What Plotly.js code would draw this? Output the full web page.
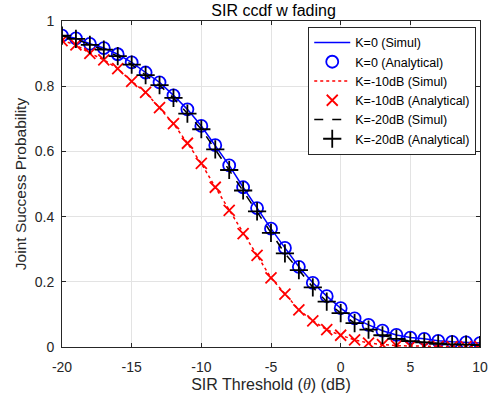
<!DOCTYPE html>
<html>
<head>
<meta charset="utf-8">
<script src="https://cdn.plot.ly/plotly-3.0.1.min.js"></script>
<style>html,body{margin:0;padding:0;background:#fff;}#chart{width:492px;height:403px;}</style>
</head>
<body>
<div id="chart"></div>
<script>
var theta = [-20,-19,-18,-17,-16,-15,-14,-13,-12,-11,-10,-9,-8,-7,-6,-5,-4,-3,-2,-1,0,1,2,3,4,5,6,7,8,9,10];
var k0 = [0.955,0.947,0.930,0.917,0.898,0.873,0.842,0.812,0.772,0.729,0.678,0.619,0.557,0.490,0.426,0.363,0.304,0.246,0.197,0.156,0.119,0.088,0.068,0.050,0.037,0.029,0.025,0.019,0.016,0.014,0.012];
var k10 = [0.940,0.927,0.901,0.881,0.854,0.815,0.781,0.734,0.685,0.625,0.563,0.490,0.419,0.348,0.281,0.212,0.162,0.114,0.080,0.053,0.036,0.022,0.012,0.007,0.004,0.003,0.002,0.002,0.001,0.001,0.001];
var k20 = [0.955,0.945,0.927,0.912,0.892,0.866,0.834,0.803,0.764,0.716,0.668,0.606,0.543,0.480,0.416,0.350,0.287,0.236,0.183,0.139,0.104,0.073,0.053,0.036,0.025,0.018,0.014,0.010,0.008,0.007,0.006];
var names = ['K=0 (Simul)','K=0 (Analytical)','K=-10dB (Simul)','K=-10dB (Analytical)','K=-20dB (Simul)','K=-20dB (Analytical)'];
var xTicks = [-20,-15,-10,-5,0,5,10];
var xTickText = ['-20','-15','-10','-5','0','5','10'];
var yTicks = [0,0.2,0.4,0.6,0.8,1];
var yTickText = ['0','0.2','0.4','0.6','0.8','1'];

var FONT = 'Liberation Sans, Arial, sans-serif';

var traces = [
  {x: theta, y: k0, mode: 'lines', name: names[0], line: {color: '#0000ff', width: 1.5}},
  {x: theta, y: k0, mode: 'markers', name: names[1], marker: {symbol: 'circle-open', size: 12, color: '#0000ff', line: {width: 1.8, color: '#0000ff'}}},
  {x: theta, y: k10, mode: 'lines', name: names[2], line: {color: '#ff0000', width: 1.5, dash: 'dot'}},
  {x: theta, y: k10, mode: 'markers', name: names[3], marker: {symbol: 'x-thin-open', size: 11, color: '#ff0000', line: {width: 1.8, color: '#ff0000'}}},
  {x: theta, y: k20, mode: 'lines', name: names[4], line: {color: '#000000', width: 1.5, dash: 'dash'}},
  {x: theta, y: k20, mode: 'markers', name: names[5], marker: {symbol: 'cross-thin-open', size: 13, color: '#000000', line: {width: 1.8, color: '#000000'}}}
];

var axisCommon = {
  showgrid: true, gridcolor: '#e3e3e3', gridwidth: 1,
  zeroline: false, showline: true, linecolor: '#262626', linewidth: 1, mirror: 'ticks',
  ticks: 'inside', ticklen: 4, tickcolor: '#262626',
  tickfont: {family: FONT, size: 14, color: '#262626'}
};

var layout = {
  width: 492, height: 403,
  margin: {l: 62, r: 12, t: 21, b: 56},
  paper_bgcolor: '#ffffff', plot_bgcolor: '#ffffff',
  title: {text: 'SIR ccdf w fading', font: {family: FONT, size: 16, color: '#000000'}, x: 0.556, xanchor: 'center', y: 0.974, yref: 'container', yanchor: 'middle'},
  xaxis: Object.assign({}, axisCommon, {range: [-20, 10], tickvals: xTicks, ticktext: xTickText, ticklabelstandoff: 7,
    title: {text: 'SIR Threshold (<i><span style="font-family:Liberation Serif, serif">θ</span></i>) (dB)', font: {family: FONT, size: 16, color: '#262626'}, standoff: 5}}),
  yaxis: Object.assign({}, axisCommon, {range: [0, 1], tickvals: yTicks, ticktext: yTickText, ticklabelstandoff: 4,
    title: {text: 'Joint Success Probability', font: {family: FONT, size: 15.5, color: '#262626'}, standoff: 4}}),
  legend: {x: 0.991, xanchor: 'right', y: 0.982, yanchor: 'top', bgcolor: '#ffffff', bordercolor: '#262626', borderwidth: 1,
    font: {family: FONT, size: 12.5, color: '#000000'}, tracegroupgap: 0, itemwidth: 36},
  showlegend: true
};

Plotly.newPlot('chart', traces, layout, {staticPlot: true, displayModeBar: false});
</script>
</body>
</html>
